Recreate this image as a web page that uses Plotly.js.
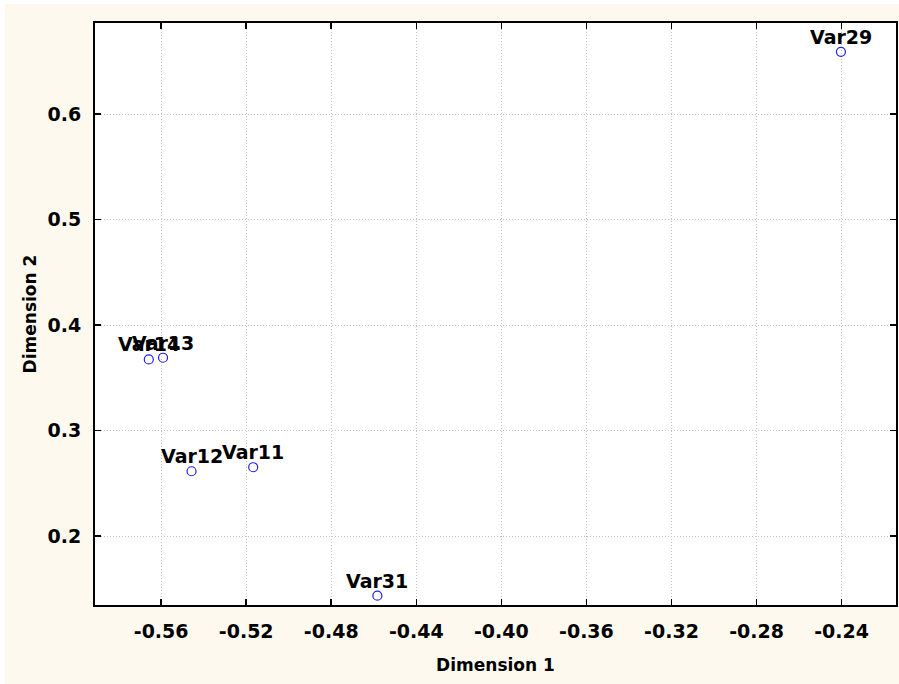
<!DOCTYPE html>
<html>
<head>
<meta charset="utf-8">
<script src="https://cdn.plot.ly/plotly-3.0.1.min.js"></script>
<style>
  html, body { margin: 0; padding: 0; background: #ffffff; }
  #chart { position: absolute; left: 5px; top: 4px; width: 894px; height: 680px; }
</style>
</head>
<body>
<div id="chart"></div>
<script>
// Data
const labels = ["Var11", "Var12", "Var14", "Var13", "Var31", "Var29"];
const dim1   = [-0.5167, -0.5457, -0.5658, -0.5591, -0.4583, -0.2403];
const dim2   = [0.2652, 0.2614, 0.3674, 0.3690, 0.1434, 0.6590];

const xTicks = [-0.56, -0.52, -0.48, -0.44, -0.40, -0.36, -0.32, -0.28, -0.24];
const yTicks = [0.2, 0.3, 0.4, 0.5, 0.6];

const fontFam = "DejaVu Sans, Verdana, sans-serif";

const trace = {
  type: "scatter",
  mode: "markers",
  x: dim1,
  y: dim2,
  marker: { symbol: "circle-open", size: 9, color: "#1f1fff", line: { width: 1.2, color: "#1f1fff" } },
  hoverinfo: "skip",
  cliponaxis: false
};

const pointLabels = labels.map((t, i) => ({
  x: dim1[i],
  y: dim2[i],
  xref: "x",
  yref: "y",
  text: t,
  showarrow: false,
  xanchor: "center",
  yanchor: "middle",
  yshift: 15,
  font: { family: fontFam, size: 19, color: "#000000", weight: "bold" }
}));

const axisCommon = {
  showline: true,
  linecolor: "#000000",
  linewidth: 2,
  mirror: "ticks",
  ticks: "inside",
  ticklen: 6,
  tickwidth: 1.5,
  tickcolor: "#000000",
  showgrid: true,
  gridcolor: "#c4c4c4",
  gridwidth: 1,
  griddash: "1px,2px",
  zeroline: false,
  tickfont: { family: fontFam, size: 19, color: "#000000", weight: "bold" }
};

const layout = {
  width: 894,
  height: 680,
  paper_bgcolor: "#fdf9ee",
  plot_bgcolor: "#ffffff",
  showlegend: false,
  margin: { l: 90, r: 3, t: 19, b: 79 },
  annotations: pointLabels,
  xaxis: Object.assign({}, axisCommon, {
    range: [-0.5911, -0.2144],
    tickvals: xTicks,
    ticktext: xTicks.map(v => v.toFixed(2)),
    ticklabelstandoff: 8,
    title: { text: "Dimension 1", font: { family: fontFam, size: 17, color: "#000000", weight: "bold" }, standoff: 18 }
  }),
  yaxis: Object.assign({}, axisCommon, {
    range: [0.1346, 0.6863],
    tickvals: yTicks,
    ticktext: yTicks.map(v => v.toFixed(1)),
    ticklabelstandoff: 8,
    title: { text: "Dimension 2", font: { family: fontFam, size: 17, color: "#000000", weight: "bold" }, standoff: 7 }
  })
};

Plotly.newPlot("chart", [trace], layout, { displayModeBar: false, staticPlot: true });
</script>
</body>
</html>
